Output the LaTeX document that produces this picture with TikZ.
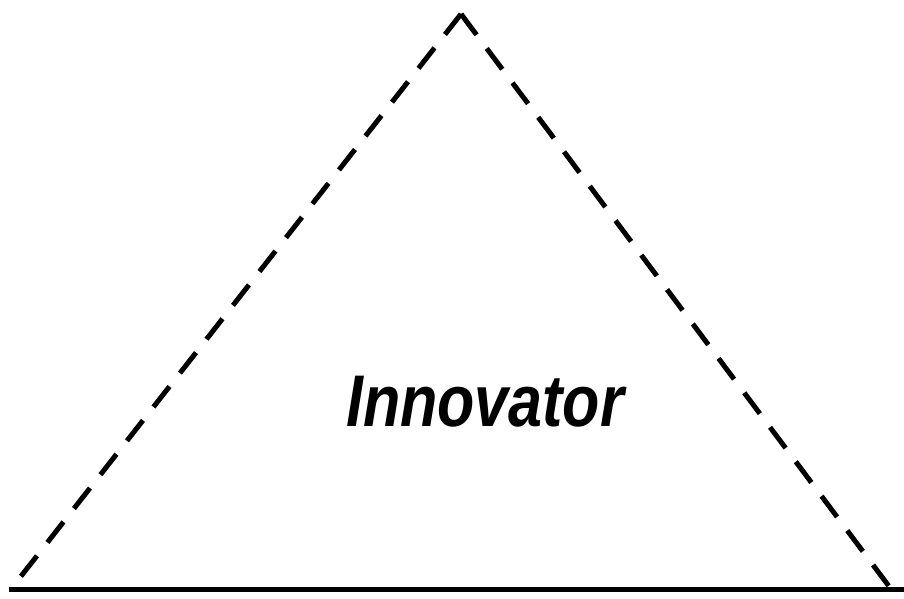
\documentclass[tikz,border=0pt]{standalone}
\usepackage{fontspec}
\setmainfont{Liberation Sans}
\begin{document}
\begin{tikzpicture}[x=1pt,y=1pt,
  side/.style={line width=5pt,dash pattern=on 26pt off 17pt},
  base/.style={line width=5.5pt},
  label/.style={font=\fontsize{61}{70}\selectfont\bfseries\itshape,inner sep=0pt,anchor=base,yscale=1.2}]
\useasboundingbox (0,0) rectangle (904,599);
\coordinate (apex) at (461,585);
\coordinate (bl) at (11,10);
\coordinate (br) at (891,10);
\coordinate (bend) at (904,9.5);
\coordinate (bstart) at (9,9.5);
\draw[side] (apex) -- (bl);
\draw[side] (apex) -- (br);
\draw[base] (bstart) -- (bend);
\node[label] (t) at (485,172) {Innovator};
\end{tikzpicture}
\end{document}
